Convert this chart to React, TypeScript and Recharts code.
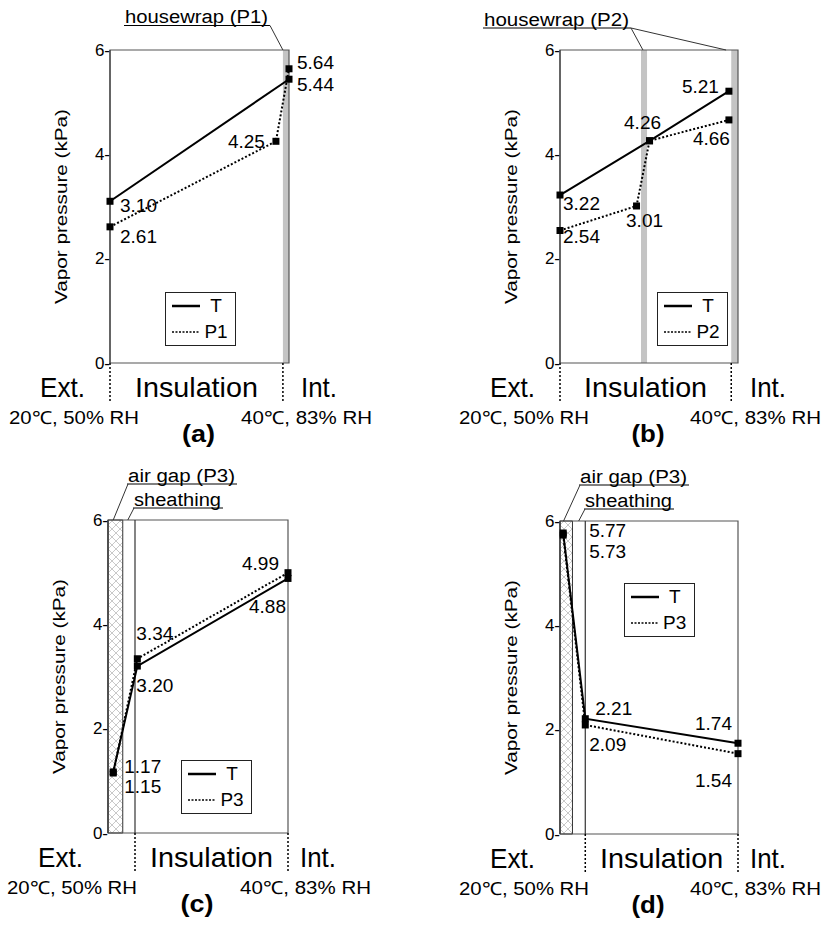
import React from 'react';
import { ComposedChart, Line, XAxis, YAxis, ReferenceArea, ReferenceLine, Legend } from 'recharts';

const FONT = '"Liberation Sans", Arial, Helvetica, sans-serif';
const W = 412;
const H = 465;
const YW = 60;

const yTicks = [0, 2, 4, 6];

// x = position through the wall, exterior = 0, interior = 1
// (a) housewrap P1 on the interior side
const aTx = [0, 1];
const aT = [3.10, 5.44];
const aPx = [0, 0.927, 1];
const aP = [2.61, 4.25, 5.64];

// (b) housewrap P2 in the middle and on the interior side
const bTx = [0, 0.503, 0.949];
const bT = [3.22, 4.26, 5.21];
const bPx = [0, 0.43, 0.503, 0.949];
const bP = [2.54, 3.01, 4.26, 4.66];

// (c) air gap P3 + sheathing on the exterior side
const cTx = [0.029, 0.163, 1];
const cT = [1.17, 3.20, 4.88];
const cPx = [0.029, 0.163, 1];
const cP = [1.15, 3.34, 4.99];

// (d) same layers, reversed gradient
const dTx = [0.018, 0.142, 1];
const dT = [5.77, 2.21, 1.74];
const dPx = [0.018, 0.142, 1];
const dP = [5.73, 2.09, 1.54];

type Pt = { x: number; v: number };
const zip = (xs: number[], vs: number[]): Pt[] => xs.map((x, i) => ({ x, v: vs[i] }));

// label offset from the marker: dx, dy, anchor
type Lab = [number, number, 'start' | 'middle' | 'end'] | null;

interface Note {
  text: string;
  dx: number;
  uy: number;
  len: number;
  from: 'start' | 'end';
  to: number[];
}

interface PanelCfg {
  tag: string;
  ox: number;
  oy: number;
  left: number;
  right: number;
  top: number;
  bottom: number;
  pName: string;
  T: Pt[];
  P: Pt[];
  tLab: Lab[];
  pLab: Lab[];
  bars: [number, number][];
  hatch?: [number, number];
  sheath?: number;
  guides: [number, number];
  legend: [number, number];
  notes: Note[];
}

const panels: PanelCfg[] = [
  {
    tag: 'a', ox: 0, oy: 0, left: 110, right: 289, top: 50, bottom: 363, pName: 'P1',
    T: zip(aTx, aT), P: zip(aPx, aP),
    tLab: [[10, 4, 'start'], [8, 5, 'start']],
    pLab: [[10, 10, 'start'], [-11, 0, 'end'], [8, -6, 'start']],
    bars: [[0.966, 1]],
    guides: [0, 0.966],
    legend: [165, 292],
    notes: [{ text: 'housewrap (P1)', dx: 15, uy: -24.5, len: 143, from: 'end', to: [0.966] }],
  },
  {
    tag: 'b', ox: 412, oy: 0, left: 560, right: 738, top: 50, bottom: 363, pName: 'P2',
    T: zip(bTx, bT), P: zip(bPx, bP),
    tLab: [[3, 8, 'start'], [-7, -18, 'middle'], [-10, -5, 'end']],
    pLab: [[3, 6, 'start'], [8, 15, 'middle'], null, [1, 19, 'end']],
    bars: [[0.455, 0.489], [0.962, 1]],
    guides: [0, 0.962],
    legend: [657, 292],
    notes: [{ text: 'housewrap (P2)', dx: -76, uy: -22, len: 145, from: 'end', to: [0.466, 0.933] }],
  },
  {
    tag: 'c', ox: 0, oy: 465, left: 108, right: 288, top: 520, bottom: 833, pName: 'P3',
    T: zip(cTx, cT), P: zip(cPx, cP),
    tLab: [[11, -5, 'start'], [-1, 19, 'start'], [-2, 28, 'end']],
    pLab: [[11, 13, 'start'], [-1, -25, 'start'], [-9, -9, 'end']],
    bars: [],
    hatch: [0, 0.082],
    sheath: 0.15,
    guides: [0.15, 1],
    legend: [181, 760],
    notes: [
      { text: 'air gap (P3)', dx: 20, uy: -36, len: 107, from: 'start', to: [0.029] },
      { text: 'sheathing', dx: 26, uy: -12, len: 87, from: 'start', to: [0.11] },
    ],
  },
  {
    tag: 'd', ox: 412, oy: 465, left: 560, right: 738, top: 521, bottom: 834, pName: 'P3',
    T: zip(dTx, dT), P: zip(dPx, dP),
    tLab: [[26, -2, 'start'], [10, -10, 'start'], [-6, -20, 'end']],
    pLab: [[26, 16, 'start'], [4, 20, 'start'], [-6, 27, 'end']],
    bars: [],
    hatch: [0, 0.07],
    sheath: 0.142,
    guides: [0.142, 1],
    legend: [623.7, 582.7],
    notes: [
      { text: 'air gap (P3)', dx: 20, uy: -36, len: 107, from: 'start', to: [0.02] },
      { text: 'sheathing', dx: 25, uy: -12, len: 87, from: 'start', to: [0.105] },
    ],
  },
];

const marker = (labs: Lab[]) => (props: any) => {
  const { cx, cy, index } = props;
  const lab = labs[index];
  const val = props.payload ? props.payload.v : props.value;
  return (
    <g key={`m${index}`}>
      <rect x={cx - 3.5} y={cy - 3.5} width={7} height={7} fill="#000" />
      {lab && (
        <text x={cx + lab[0]} y={cy + lab[1]} textAnchor={lab[2]} dominantBaseline="central"
          fontSize={19} fontFamily={FONT} fill="#000">
          {Number(val).toFixed(2)}
        </text>
      )}
    </g>
  );
};

const yTick = (props: any) => {
  const { x, y, payload } = props;
  return (
    <text x={x} y={y} textAnchor="end" dominantBaseline="central" fontSize={17} fontFamily={FONT} fill="#000">
      {`${payload.value}-`}
    </text>
  );
};

const yLabel = (props: any) => {
  const vb = props.viewBox || {};
  const cx = vb.x + 11;
  const cy = vb.y + vb.height / 2;
  return (
    <text x={cx} y={cy} transform={`rotate(-90 ${cx} ${cy})`} textAnchor="middle" dominantBaseline="central"
      fontSize={17} fontFamily={FONT} fill="#000" textLength={195} lengthAdjust="spacingAndGlyphs">
      Vapor pressure (kPa)
    </text>
  );
};

const renderLegend = (props: any) => {
  const items = [...(props.payload || [])].sort((a: any, b: any) =>
    (a.value === 'T' ? 0 : 1) - (b.value === 'T' ? 0 : 1));
  return (
    <div style={{
      boxSizing: 'border-box', width: '100%', height: '100%', border: '1.5px solid #222',
      background: '#fff', padding: '0 0 0 6px', fontFamily: FONT,
    }}>
      {items.map((e: any, i: number) => {
        const dotted = e.value !== 'T';
        return (
          <div key={i} style={{ display: 'flex', alignItems: 'center', height: 26 }}>
            <svg width={28} height={8}>
              <line x1={0} y1={4} x2={28} y2={4} stroke="#000" strokeWidth={dotted ? 1.6 : 2.5}
                strokeDasharray={dotted ? '2 1.5' : undefined} />
            </svg>
            <span style={{ width: 32, textAlign: 'center', fontSize: 19, lineHeight: '20px', color: '#000' }}>{e.value}</span>
          </div>
        );
      })}
    </div>
  );
};

function PanelChart({ p }: { p: PanelCfg }) {
  const margin = {
    top: p.top - p.oy,
    bottom: p.oy + H - p.bottom,
    left: p.left - p.ox - YW,
    right: p.ox + W - p.right,
  };
  return (
    <div style={{ position: 'absolute', left: p.ox, top: p.oy }}>
      <ComposedChart width={W} height={H} margin={margin}>
        <XAxis type="number" dataKey="x" domain={[0, 1]} hide />
        <YAxis type="number" domain={[0, 6]} ticks={yTicks} width={YW} tickSize={0} tickMargin={0}
          axisLine={{ stroke: '#333' }} tickLine={false} tick={yTick} label={{ content: yLabel }} />
        {p.bars.map(([x1, x2], i) => (
          <ReferenceArea key={`bar${i}`} x1={x1} x2={x2} y1={0} y2={6} fill="#c4c4c4" fillOpacity={1} stroke="none" />
        ))}
        {p.hatch && (
          <ReferenceArea x1={p.hatch[0]} x2={p.hatch[1]} y1={0} y2={6} fill="url(#hatch)" fillOpacity={1} stroke="#333" />
        )}
        <ReferenceArea x1={0} x2={1} y1={0} y2={6} fill="none" stroke="#555" strokeWidth={1.2} />
        {p.sheath !== undefined && <ReferenceLine x={p.sheath} stroke="#333" strokeWidth={1.2} />}
        {p.guides.map((g, i) => (
          <ReferenceLine key={`g${i}`} segment={[{ x: g, y: 0 }, { x: g, y: -0.74 }]} stroke="#000"
            strokeWidth={1.5} strokeDasharray="2 2" ifOverflow="visible" />
        ))}
        <Line data={p.T} dataKey="v" name="T" type="linear" stroke="#000" strokeWidth={2}
          dot={marker(p.tLab)} activeDot={false} isAnimationActive={false} />
        <Line data={p.P} dataKey="v" name={p.pName} type="linear" stroke="#000" strokeWidth={2}
          strokeDasharray="2 2" dot={marker(p.pLab)} activeDot={false} isAnimationActive={false} />
        <Legend layout="vertical" align="center" verticalAlign="middle" width={71} height={54}
          wrapperStyle={{ left: p.legend[0] - p.ox, top: p.legend[1] - p.oy, width: 71, height: 54 }}
          content={renderLegend} />
      </ComposedChart>
    </div>
  );
}

function PanelText({ p }: { p: PanelCfg }) {
  const sx = (f: number) => p.left + f * (p.right - p.left);
  const b = p.bottom;
  const mid = (p.left + p.right) / 2 - 1;
  const insMid = (sx(p.guides[0]) + sx(p.guides[1])) / 2;
  return (
    <g fontFamily={FONT} fill="#000">
      <text x={p.left - 70} y={b + 34} fontSize={28} textLength={45} lengthAdjust="spacingAndGlyphs">Ext.</text>
      <text x={insMid} y={b + 34} fontSize={28} textAnchor="middle" textLength={123} lengthAdjust="spacingAndGlyphs">Insulation</text>
      <text x={p.right + 12} y={b + 34} fontSize={28} textLength={36} lengthAdjust="spacingAndGlyphs">Int.</text>
      <text x={p.left - 101} y={b + 60.5} fontSize={18} textLength={130} lengthAdjust="spacingAndGlyphs">20℃, 50% RH</text>
      <text x={p.right - 48} y={b + 60.5} fontSize={18} textLength={131} lengthAdjust="spacingAndGlyphs">40℃, 83% RH</text>
      <text x={mid} y={b + 79} fontSize={24} fontWeight="bold" textAnchor="middle" textLength={33} lengthAdjust="spacingAndGlyphs">({p.tag})</text>
      {p.notes.map((n, i) => {
        const x0 = p.left + n.dx;
        const x1 = x0 + n.len;
        const uy = p.top + n.uy;
        const fx = n.from === 'end' ? x1 + 2 : x0;
        return (
          <g key={i}>
            <text x={x0} y={uy - 2.5} fontSize={18} textLength={n.len} lengthAdjust="spacingAndGlyphs">{n.text}</text>
            <line x1={x0 - 1} y1={uy} x2={x1 + 2} y2={uy} stroke="#000" strokeWidth={1} />
            {n.to.map((f, j) => (
              <line key={j} x1={fx} y1={uy} x2={sx(f)} y2={p.top} stroke="#333" strokeWidth={1} />
            ))}
          </g>
        );
      })}
    </g>
  );
}

export default function App() {
  return (
    <div style={{ position: 'absolute', left: 0, top: 0, width: 824, height: 929, background: '#fff', fontFamily: FONT }}>
      <svg width={0} height={0} style={{ position: 'absolute' }}>
        <defs>
          <pattern id="hatch" width={8} height={8} patternUnits="userSpaceOnUse">
            <path d="M0,0 L8,8 M8,0 L0,8" stroke="#bbb" strokeWidth={0.8} />
          </pattern>
        </defs>
      </svg>
      {panels.map((p) => <PanelChart key={p.tag} p={p} />)}
      <svg width={824} height={929} style={{ position: 'absolute', left: 0, top: 0, pointerEvents: 'none' }}>
        {panels.map((p) => <PanelText key={p.tag} p={p} />)}
      </svg>
    </div>
  );
}
